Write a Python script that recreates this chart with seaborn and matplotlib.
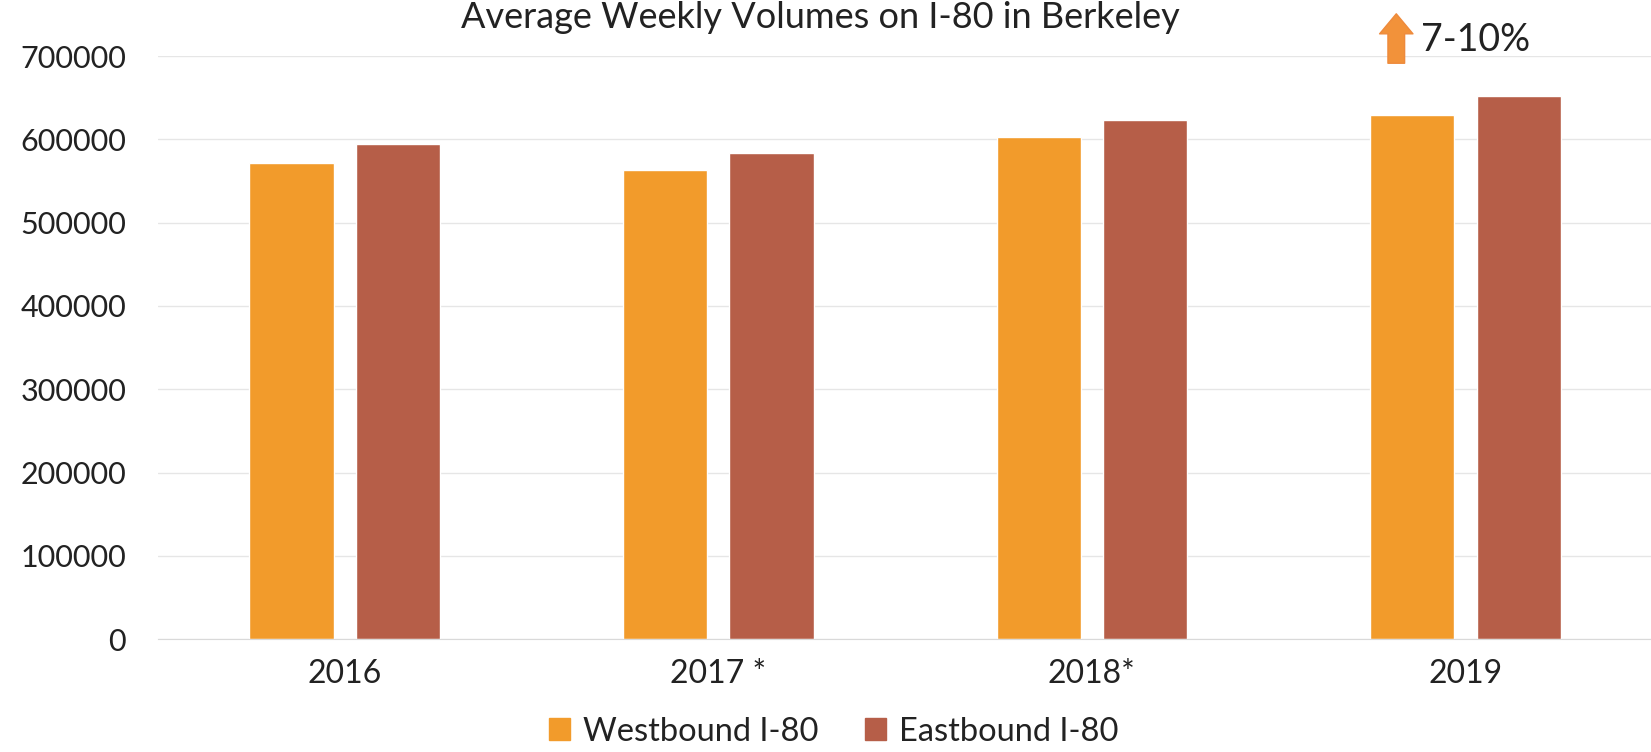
import pandas as pd
import matplotlib.pyplot as plt
import seaborn as sns

# values
years = ['2016', '2017 *', '2018*', '2019']
westbound = [571000, 563500, 603000, 629000]
eastbound = [594000, 584000, 623000, 652000]
series = ['Westbound I-80', 'Eastbound I-80']
colors = ['#F29B2B', '#B65E48']

data = pd.DataFrame({
    'Year': years * 2,
    'Volume': westbound + eastbound,
    'Direction': [series[0]] * len(years) + [series[1]] * len(years),
})

sns.set_style('white')
plt.rcParams['font.family'] = ['Lato', 'DejaVu Sans']

fig = plt.figure(figsize=(16.51, 7.52), dpi=100)
ax = fig.add_axes([0.0957, 0.150, 0.905, 0.7755])

sns.barplot(ax=ax, data=data, x='Year', y='Volume', hue='Direction',
            palette=colors, width=0.57, gap=0.21, saturation=1, legend=False)

ax.set_xlim(-0.5, 3.5)
ax.set_ylim(0, 700000)
ax.set_yticks(range(0, 700001, 100000))
ax.yaxis.grid(True, color='#e6e6e6', linewidth=1)
ax.set_axisbelow(True)
for s in ['top', 'right', 'left']:
    ax.spines[s].set_visible(False)
ax.spines['bottom'].set_color('#d9d9d9')
ax.tick_params(axis='y', length=0, pad=23, labelsize=22, labelcolor='#222222')
ax.tick_params(axis='x', length=0, pad=14, labelsize=23, labelcolor='#222222')
ax.set_xlabel('')
ax.set_ylabel('')

# growth callout above 2019
ax.annotate('', xy=(2.815, 754000), xytext=(2.815, 688000),
            arrowprops=dict(arrowstyle='simple,head_length=0.6,head_width=1.0,tail_width=0.5',
                            mutation_scale=24, facecolor='#F2923A', edgecolor='#EE8A3C', lw=1),
            annotation_clip=False)
ax.text(2.882, 719000, '7-10%', fontsize=27, color='#222222', va='center',
        ha='left', clip_on=False)

fig.text(0.497, 0.999, 'Average Weekly Volumes on I-80 in Berkeley',
         ha='center', va='top', fontsize=26, color='#222222')

handles = [plt.Rectangle((0, 0), 1, 1, color=c) for c in colors]
fig.legend(handles, series, loc='center', bbox_to_anchor=(0.505, 0.027),
           ncol=2, frameon=False, fontsize=23.5, handlelength=0.65, handleheight=0.65,
           handletextpad=0.4, columnspacing=1.4, labelcolor='#222222')

fig.savefig('out.png', dpi=100)
